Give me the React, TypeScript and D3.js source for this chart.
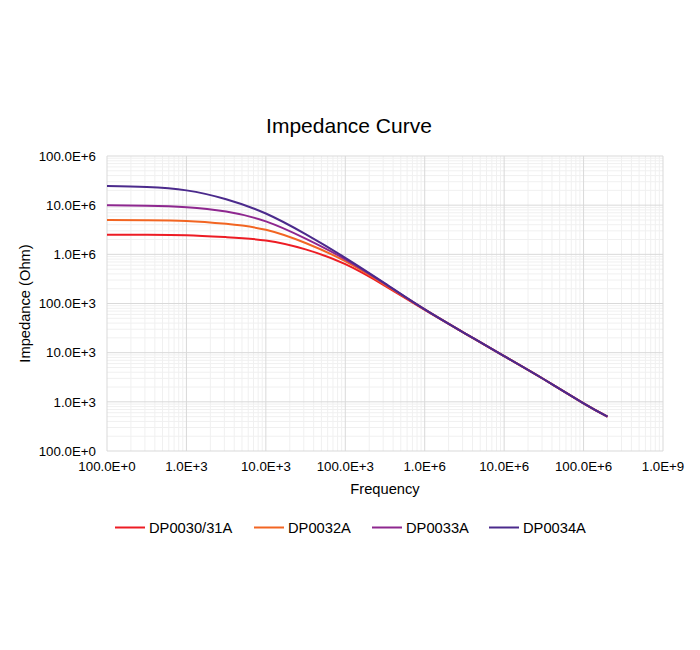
import React from "react";
import * as d3 from "d3";

const FREQ = [100, 316, 1000, 3160, 10000, 31600, 100000, 316000, 1e6, 3.16e6, 1e7, 3.16e7, 1e8, 2e8];
const DP0030_31A = [2.51e6, 2.5e6, 2.45e6, 2.24e6, 1.91e6, 1.26e6, 631e3, 229e3, 74.1e3, 25.1e3, 8.51e3, 2.88e3, 933, 501];
const DP0032A = [5.01e6, 4.95e6, 4.79e6, 4.17e6, 3.16e6, 1.7e6, 724e3, 240e3, 75.9e3, 25.1e3, 8.51e3, 2.88e3, 933, 501];
const DP0033A = [10.0e6, 9.77e6, 9.12e6, 7.41e6, 4.68e6, 2.09e6, 794e3, 251e3, 75.9e3, 25.1e3, 8.51e3, 2.88e3, 933, 501];
const DP0034A = [24.5e6, 23.4e6, 20.0e6, 13.2e6, 6.76e6, 2.57e6, 851e3, 257e3, 75.9e3, 25.1e3, 8.51e3, 2.88e3, 933, 501];

const SERIES_NAMES = ["DP0030/31A", "DP0032A", "DP0033A", "DP0034A"];
const SERIES_VALUES = [DP0030_31A, DP0032A, DP0033A, DP0034A];
const SERIES_COLORS = ["#ED1C24", "#F26522", "#8E278F", "#4B2A8C"];

const X_TICKS = [1e2, 1e3, 1e4, 1e5, 1e6, 1e7, 1e8, 1e9];
const X_TICK_LABELS = ["100.0E+0", "1.0E+3", "10.0E+3", "100.0E+3", "1.0E+6", "10.0E+6", "100.0E+6", "1.0E+9"];
const Y_TICKS = [1e2, 1e3, 1e4, 1e5, 1e6, 1e7, 1e8];
const Y_TICK_LABELS = ["100.0E+0", "1.0E+3", "10.0E+3", "100.0E+3", "1.0E+6", "10.0E+6", "100.0E+6"];

const LEGEND_X = [115, 254, 372, 489];

const FONT = "'Liberation Sans', Arial, sans-serif";

export default function App() {
  const left = 107, right = 663, top = 156, bottom = 451;
  const x = d3.scaleLog().domain([1e2, 1e9]).range([left, right]);
  const y = d3.scaleLog().domain([1e2, 1e8]).range([bottom, top]);

  const minorX: number[] = [];
  for (let d = 2; d < 9; d++) for (let m = 2; m <= 9; m++) minorX.push(m * Math.pow(10, d));
  const minorY: number[] = [];
  for (let d = 2; d < 8; d++) for (let m = 2; m <= 9; m++) minorY.push(m * Math.pow(10, d));

  const line = d3
    .line<number>()
    .x((_, i) => x(FREQ[i]))
    .y((v) => y(v))
    .curve(d3.curveNatural);

  return (
    <svg
      width={700}
      height={650}
      style={{ position: "absolute", left: 0, top: 0, background: "#fff" }}
      fontFamily={FONT}
    >
      <rect x={0} y={0} width={700} height={650} fill="#fff" />
      <text x={349} y={133} textAnchor="middle" fontSize={21} fill="#000">
        Impedance Curve
      </text>
      <g>
        {minorX.map((v) => (
          <line key={"mx" + v} x1={x(v)} x2={x(v)} y1={top} y2={bottom} stroke="#f0f0f0" strokeWidth={1} />
        ))}
        {minorY.map((v) => (
          <line key={"my" + v} x1={left} x2={right} y1={y(v)} y2={y(v)} stroke="#f0f0f0" strokeWidth={1} />
        ))}
        {X_TICKS.map((v) => (
          <line key={"Mx" + v} x1={x(v)} x2={x(v)} y1={top} y2={bottom} stroke="#d9d9d9" strokeWidth={1} />
        ))}
        {Y_TICKS.map((v) => (
          <line key={"My" + v} x1={left} x2={right} y1={y(v)} y2={y(v)} stroke="#d9d9d9" strokeWidth={1} />
        ))}
      </g>
      {SERIES_VALUES.map((vals, i) => (
        <path key={SERIES_NAMES[i]} d={line(vals) || ""} fill="none" stroke={SERIES_COLORS[i]} strokeWidth={2} />
      ))}
      {X_TICKS.map((v, i) => (
        <text key={"xt" + v} x={x(v)} y={471} textAnchor="middle" fontSize={13.3} fill="#000">
          {X_TICK_LABELS[i]}
        </text>
      ))}
      {Y_TICKS.map((v, i) => (
        <text key={"yt" + v} x={96} y={y(v) + 4.8} textAnchor="end" fontSize={13.3} fill="#000">
          {Y_TICK_LABELS[i]}
        </text>
      ))}
      <text x={(left + right) / 2} y={494} textAnchor="middle" fontSize={14.7} fill="#000">
        Frequency
      </text>
      <text
        transform={`translate(30, ${(top + bottom) / 2}) rotate(-90)`}
        textAnchor="middle"
        fontSize={14.7}
        fill="#000"
      >
        Impedance (Ohm)
      </text>
      {SERIES_NAMES.map((name, i) => (
        <g key={"lg" + name}>
          <line x1={LEGEND_X[i]} x2={LEGEND_X[i] + 30} y1={527.5} y2={527.5} stroke={SERIES_COLORS[i]} strokeWidth={2} />
          <text x={LEGEND_X[i] + 34} y={533} fontSize={14.7} fill="#000">
            {name}
          </text>
        </g>
      ))}
    </svg>
  );
}
